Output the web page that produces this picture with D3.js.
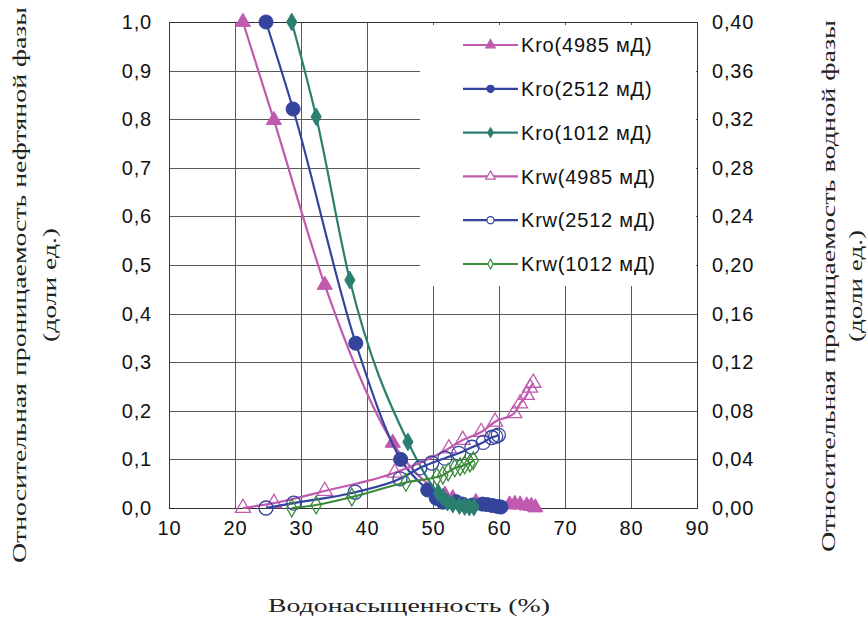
<!DOCTYPE html>
<html>
<head>
<meta charset="utf-8">
<script src="https://cdn.jsdelivr.net/npm/d3@7"></script>
<style>
  html, body { margin: 0; padding: 0; background: #fff; }
  svg { display: block; }
</style>
</head>
<body>
<svg id="chart" width="868" height="621"></svg>
<script>
// Water saturation, % (x) and relative permeabilities for three core samples
const xTicks = [10, 20, 30, 40, 50, 60, 70, 80, 90];
const leftTicks = [0, 0.1, 0.2, 0.3, 0.4, 0.5, 0.6, 0.7, 0.8, 0.9, 1.0];
const rightTicks = [0, 0.04, 0.08, 0.12, 0.16, 0.20, 0.24, 0.28, 0.32, 0.36, 0.40];

// Oil phase (left axis)
const kro4985 = [[21.2,1.0],[25.9,0.798],[33.6,0.459],[43.9,0.134],[51.8,0.027],[53.0,0.020],[56.5,0.012],
  [61.6,0.007],[62.4,0.008],[63.2,0.007],[64.2,0.005],[64.9,0.004],[65.5,0.001]];
const kro2512 = [[24.7,1.0],[28.8,0.821],[38.3,0.339],[45.1,0.100],[49.2,0.037],[50.5,0.020],[51.5,0.012],
  [53.5,0.013],[54.5,0.008],[56.0,0.006],[57.5,0.008],[58.2,0.007],[59.0,0.005],[59.8,0.003],[60.3,0.002]];
const kro1012 = [[28.6,1.0],[32.3,0.805],[37.4,0.469],[46.2,0.136],[50.8,0.031],[51.5,0.022],[52.2,0.012],
  [53.0,0.008],[54.0,0.005],[54.8,0.003],[55.5,0.002],[56.2,0.002]];

// Water phase (right axis)
const krw4985 = [[21.2,0],[25.9,0.004],[33.6,0.014],[44.2,0.029],[52.4,0.049],[54.5,0.056],[57.3,0.0625],
  [59.4,0.071],[62.3,0.078],[63.2,0.086],[64.2,0.093],[64.7,0.099],[65.2,0.103]];
const krw2512 = [[24.7,0],[28.9,0.004],[38.2,0.013],[45.0,0.024],[48.0,0.033],[49.8,0.037],[51.8,0.041],
  [53.9,0.045],[55.9,0.050],[57.6,0.054],[58.9,0.058],[59.5,0.059],[59.9,0.060]];
const krw1012 = [[28.6,0],[32.3,0.0025],[37.7,0.009],[45.9,0.021],[50.6,0.0255],[51.5,0.027],[52.3,0.0296],
  [53.3,0.033],[54.1,0.034],[54.8,0.0354],[55.6,0.037],[56.1,0.039]];

const seriesNames = ["Kro(4985 мД)", "Kro(2512 мД)", "Kro(1012 мД)", "Krw(4985 мД)", "Krw(2512 мД)", "Krw(1012 мД)"];

const MAGENTA = "#bf5aae", BLUE = "#34449c", TEAL = "#2b7f70", GREEN = "#3a8b3a";

const series = [
  { name: seriesNames[0], data: kro4985, axis: "left",  color: MAGENTA, shape: "triangle", filled: true },
  { name: seriesNames[1], data: kro2512, axis: "left",  color: BLUE,    shape: "circle",   filled: true },
  { name: seriesNames[2], data: kro1012, axis: "left",  color: TEAL,    shape: "diamond",  filled: true },
  { name: seriesNames[3], data: krw4985, axis: "right", color: MAGENTA, shape: "triangle", filled: false },
  { name: seriesNames[4], data: krw2512, axis: "right", color: BLUE,    shape: "circle",   filled: false },
  { name: seriesNames[5], data: krw1012, axis: "right", color: GREEN,   shape: "diamond",  filled: false }
];

const ruLocale = d3.formatLocale({ decimal: ",", thousands: "\u00a0", grouping: [3], currency: ["", ""] });
const fmt1 = ruLocale.format(".1f");
const fmt2 = ruLocale.format(".2f");

const plot = { left: 169, right: 697, top: 22, bottom: 508 };
const x = d3.scaleLinear().domain([10, 90]).range([plot.left, plot.right]);
const yL = d3.scaleLinear().domain([0, 1]).range([plot.bottom, plot.top]);
const yR = d3.scaleLinear().domain([0, 0.4]).range([plot.bottom, plot.top]);

const svg = d3.select("#chart");
const SANS = "'Liberation Sans', Arial, sans-serif";
const SERIF = "'Liberation Serif', 'DejaVu Serif', 'Times New Roman', serif";

// Grid
const grid = svg.append("g").attr("stroke", "#5a5a5a").attr("stroke-width", 1);
grid.selectAll("line.v").data(xTicks.slice(1, -1)).join("line")
  .attr("x1", d => Math.round(x(d)) + 0.5).attr("x2", d => Math.round(x(d)) + 0.5)
  .attr("y1", plot.top).attr("y2", plot.bottom);
grid.selectAll("line.h").data(leftTicks.slice(1, -1)).join("line")
  .attr("y1", d => Math.round(yL(d)) + 0.5).attr("y2", d => Math.round(yL(d)) + 0.5)
  .attr("x1", plot.left).attr("x2", plot.right);

// Legend backdrop hides the grid in the upper-right corner
svg.append("rect").attr("x", 420).attr("y", 25).attr("width", 276).attr("height", 261).attr("fill", "#fff");

// Plot frame
svg.append("rect").attr("x", plot.left + 0.5).attr("y", plot.top + 0.5)
  .attr("width", plot.right - plot.left).attr("height", plot.bottom - plot.top)
  .attr("fill", "none").attr("stroke", "#333").attr("stroke-width", 1);

// Axes (labels only; ticks are the grid lines)
const axL = svg.append("g").attr("transform", `translate(${plot.left},0)`)
  .call(d3.axisLeft(yL).tickValues(leftTicks).tickFormat(fmt1).tickSize(0).tickPadding(17));
const axR = svg.append("g").attr("transform", `translate(${plot.right},0)`)
  .call(d3.axisRight(yR).tickValues(rightTicks).tickFormat(fmt2).tickSize(0).tickPadding(15));
const axB = svg.append("g").attr("transform", `translate(0,${plot.bottom})`)
  .call(d3.axisBottom(x).tickValues(xTicks).tickFormat(d3.format("d")).tickSize(0).tickPadding(13));
[axL, axR, axB].forEach(g => {
  g.select(".domain").remove();
  g.selectAll("text").attr("font-family", SANS).attr("font-size", 20)
    .attr("letter-spacing", 0.8).attr("fill", "#111");
});

// Marker shapes
function markerPath(shape, size) {
  const t = { triangle: d3.symbolTriangle, circle: d3.symbolCircle, diamond: d3.symbolDiamond }[shape];
  return d3.symbol().type(t).size(size)();
}
const markerSize = { triangle: 100, circle: 155, diamond: 90 };

const line = d3.line().curve(d3.curveMonotoneX);

series.forEach(s => {
  const ys = s.axis === "left" ? yL : yR;
  const g = svg.append("g");
  g.append("path")
    .attr("d", line.x(d => x(d[0])).y(d => ys(d[1]))(s.data))
    .attr("fill", "none").attr("stroke", s.color).attr("stroke-width", 2.2);
  g.selectAll("path.m").data(s.data).join("path")
    .attr("class", "m")
    .attr("d", markerPath(s.shape, markerSize[s.shape]))
    .attr("transform", d => `translate(${x(d[0])},${ys(d[1])})`)
    .attr("fill", s.filled ? s.color : "none")
    .attr("stroke", s.color).attr("stroke-width", s.filled ? 1 : 1.3);
});

// Legend
const legend = svg.append("g");
series.forEach((s, i) => {
  const yy = 45 + i * 43.8;
  legend.append("line").attr("x1", 463).attr("x2", 518).attr("y1", yy).attr("y2", yy)
    .attr("stroke", s.color).attr("stroke-width", 2.2);
  const ls = { triangle: 40, circle: 40, diamond: 26 }[s.shape];
  legend.append("path").attr("d", markerPath(s.shape, ls))
    .attr("transform", `translate(490.5,${yy})`)
    .attr("fill", s.filled ? s.color : "#fff").attr("stroke", s.color).attr("stroke-width", 1.2);
  legend.append("text").attr("x", 521).attr("y", yy).attr("dy", "0.36em")
    .attr("font-family", SANS).attr("font-size", 20).attr("letter-spacing", 0.8)
    .attr("fill", "#111").text(s.name);
});

// Axis titles
svg.append("text").attr("x", 409).attr("y", 612).attr("text-anchor", "middle")
  .attr("font-family", SERIF).attr("font-size", 18).attr("fill", "#222")
  .attr("textLength", 282).attr("lengthAdjust", "spacingAndGlyphs")
  .text("Водонасыщенность (%)");

const lt = svg.append("text").attr("transform", "translate(26,285) rotate(-90)")
  .attr("text-anchor", "middle").attr("font-family", SERIF).attr("font-size", 18).attr("fill", "#222");
lt.append("tspan").attr("x", 0).attr("dy", 0)
  .attr("textLength", 556).attr("lengthAdjust", "spacingAndGlyphs")
  .text("Относительная проницаемость нефтяной фазы");
lt.append("tspan").attr("x", 0).attr("dy", 30)
  .attr("textLength", 114).attr("lengthAdjust", "spacingAndGlyphs")
  .text("(доли ед.)");

const rt = svg.append("text").attr("transform", "translate(835,286) rotate(-90)")
  .attr("text-anchor", "middle").attr("font-family", SERIF).attr("font-size", 18).attr("fill", "#222");
rt.append("tspan").attr("x", 0).attr("dy", 0)
  .attr("textLength", 532).attr("lengthAdjust", "spacingAndGlyphs")
  .text("Относительная проницаемость водной фазы");
rt.append("tspan").attr("x", 0).attr("dy", 27)
  .attr("textLength", 112).attr("lengthAdjust", "spacingAndGlyphs")
  .text("(доли ед.)");
</script>
</body>
</html>
